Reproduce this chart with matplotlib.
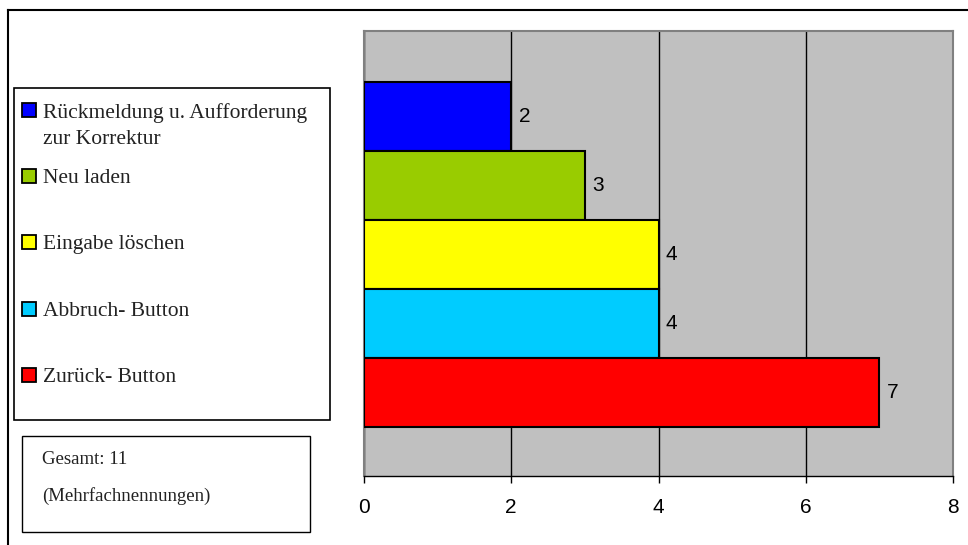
import matplotlib.pyplot as plt
from matplotlib.patches import Rectangle
from matplotlib.lines import Line2D

# data (top to bottom as in the chart)
labels = ['Rückmeldung u. Aufforderung\nzur Korrektur', 'Neu laden', 'Eingabe löschen',
          'Abbruch- Button', 'Zurück- Button']
values = [2, 3, 4, 4, 7]
colors = ['#0000FF', '#99CC00', '#FFFF00', '#00CCFF', '#FF0000']
xticks = [0, 2, 4, 6, 8]
note_lines = ['Gesamt: 11', '(Mehrfachnennungen)']

W, H = 968, 545
fig = plt.figure(figsize=(W / 100, H / 100), dpi=100)

def fx(px):
    return px / W

def fy(py):
    return 1 - py / H

# plot area
ax = fig.add_axes([fx(364), fy(476), fx(953) - fx(364), fy(31) - fy(476)])
ax.set_facecolor('#C0C0C0')

n = len(values)
pos = [n - 1 - i for i in range(n)]
ax.barh(pos, values, height=1.0, color=colors, edgecolor='black', linewidth=1.5, zorder=3)

for p, v in zip(pos, values):
    ax.text(v + 0.1, p, str(v), va='center', ha='left', fontsize=15,
            family='Liberation Sans', zorder=4)

ax.set_xlim(0, 8)
ax.set_ylim(-1.21, n - 0.5 + 0.746)
ax.set_xticks(xticks)
ax.set_xticklabels([str(t) for t in xticks], family='Liberation Sans', fontsize=15)
ax.set_yticks([])
ax.tick_params(axis='x', direction='out', length=5, width=1, pad=11)
ax.xaxis.grid(True, color='black', linewidth=1, zorder=1)
ax.set_axisbelow(True)
for s in ['left', 'top', 'right']:
    ax.spines[s].set_color('#808080')
    ax.spines[s].set_linewidth(1.5)
ax.spines['bottom'].set_color('black')
ax.spines['bottom'].set_linewidth(1)

# figure border (top and left)
fig.add_artist(Line2D([fx(8), 1], [fy(10), fy(10)], color='black', linewidth=1.5))
fig.add_artist(Line2D([fx(8), fx(8)], [0, fy(10)], color='black', linewidth=1.5))

# legend box
fig.add_artist(Rectangle((fx(14), fy(420)), fx(330) - fx(14), fy(88) - fy(420),
                         facecolor='white', edgecolor='black', linewidth=1.2))
legend_y = [110, 175.5, 241.5, 308.5, 374.5]
for lab, col, yc in zip(labels, colors, legend_y):
    fig.add_artist(Rectangle((fx(22), fy(yc + 7)), fx(14), 14 / H,
                             facecolor=col, edgecolor='black', linewidth=1.3))
    for k, line in enumerate(lab.split('\n')):
        fig.text(fx(43), fy(yc + 3 + 27 * k), line, va='center', ha='left',
                 fontsize=15.5, family='Liberation Serif', color='#222222')

# note box
fig.add_artist(Rectangle((fx(22), fy(532)), fx(310) - fx(22), fy(436) - fy(532),
                         facecolor='white', edgecolor='black', linewidth=1))
for k, line in enumerate(note_lines):
    fig.text(fx(42), fy(459 + 37 * k), line, va='center', ha='left',
             fontsize=13.5, family='Liberation Serif', color='#222222')

fig.savefig('out.png', dpi=100)
